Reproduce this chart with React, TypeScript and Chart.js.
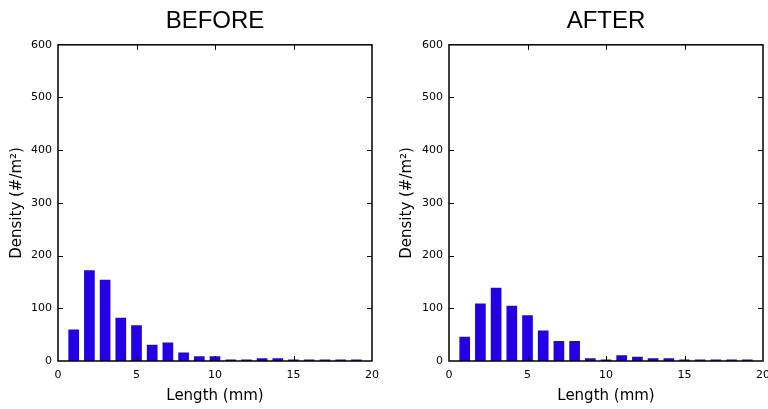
import React, { useEffect, useRef } from "react";
import { Chart, registerables } from "chart.js";

Chart.register(...registerables);

const lengths = [1, 2, 3, 4, 5, 6, 7, 8, 9, 10, 11, 12, 13, 14, 15, 16, 17, 18, 19];
const beforeValues = [60, 172, 154, 82, 68, 31, 35, 16, 9, 9, 0, 0, 5, 5, 0, 0, 0, 0, 0];
const afterValues = [46, 109, 139, 105, 87, 58, 38, 38, 5, 0, 11, 8, 5, 5, 0, 0, 0, 0, 0];
const xTicks = [0, 5, 10, 15, 20];
const yTicks = [0, 100, 200, 300, 400, 500, 600];
const titles = ["BEFORE", "AFTER"];

const FONT = "'Liberation Sans', Arial, sans-serif";
const AXFONT = "'DejaVu Sans', sans-serif";

const boxPlugin = {
  id: "boxTicks",
  afterDatasetsDraw(chart: any) {
    const { ctx, chartArea: a, scales } = chart;
    const x = scales.x, y = scales.y;
    ctx.save();
    ctx.strokeStyle = "#000";
    ctx.lineWidth = 1;
    const tl = 5;
    ctx.beginPath();
    for (const v of xTicks) {
      if (v === xTicks[0] || v === xTicks[xTicks.length - 1]) continue;
      const px = Math.round(x.getPixelForValue(v)) + 0.5;
      ctx.moveTo(px, a.bottom);
      ctx.lineTo(px, a.bottom - tl);
      ctx.moveTo(px, a.top);
      ctx.lineTo(px, a.top + tl);
    }
    for (const v of yTicks) {
      if (v === yTicks[0] || v === yTicks[yTicks.length - 1]) continue;
      const py = Math.round(y.getPixelForValue(v)) + 0.5;
      ctx.moveTo(a.left, py);
      ctx.lineTo(a.left + tl, py);
      ctx.moveTo(a.right, py);
      ctx.lineTo(a.right - tl, py);
    }
    ctx.stroke();
    ctx.lineWidth = 1.5;
    ctx.strokeRect(a.left, a.top, a.right - a.left, a.bottom - a.top);
    ctx.restore();
  },
};

function Panel({ title, values, left, width, padRight, yWidth }: any) {
  const ref = useRef<HTMLCanvasElement>(null);
  useEffect(() => {
    const points = lengths.map((l, i) => ({ x: l, y: values[i] }));
    const chart = new Chart(ref.current as HTMLCanvasElement, {
      type: "bar",
      data: {
        datasets: [
          {
            data: points,
            backgroundColor: "#2200e6",
            borderColor: "#2200e6",
            borderWidth: 0,
            barPercentage: 0.68,
            categoryPercentage: 1,
            minBarLength: 1.5,
          },
        ],
      },
      options: {
        animation: false,
        responsive: false,
        maintainAspectRatio: false,
        layout: { padding: { top: 3, right: padRight, bottom: 0, left: 0 } },
        plugins: {
          legend: { display: false },
          tooltip: { enabled: false },
          title: {
            display: true,
            text: title,
            fullSize: false,
            color: "#000",
            font: { family: FONT, size: 24, weight: "normal" },
            padding: { top: 4, bottom: 9 },
          },
        },
        scales: {
          x: {
            type: "linear",
            min: 0,
            max: 20,
            offset: false,
            grid: { display: false, drawTicks: false },
            border: { display: false },
            afterBuildTicks: (s: any) => {
              s.ticks = xTicks.map((v) => ({ value: v }));
            },
            afterFit: (s: any) => {
              s.height = 48;
              s.paddingLeft = 0;
              s.paddingRight = 0;
            },
            ticks: {
              color: "#000",
              font: { family: AXFONT, size: 11 },
              padding: 8,
              maxRotation: 0,
            },
            title: {
              display: true,
              text: "Length (mm)",
              color: "#000",
              font: { family: AXFONT, size: 15 },
              padding: { top: 0, bottom: 4 },
            },
          },
          y: {
            min: 0,
            max: 600,
            grid: { display: false, drawTicks: false },
            border: { display: false },
            afterBuildTicks: (s: any) => {
              s.ticks = yTicks.map((v) => ({ value: v }));
            },
            afterFit: (s: any) => {
              s.width = yWidth;
              s.paddingTop = 0;
              s.paddingBottom = 0;
            },
            ticks: {
              color: "#000",
              font: { family: AXFONT, size: 11 },
              padding: 6,
            },
            title: {
              display: true,
              text: "Density (#/m²)",
              color: "#000",
              font: { family: AXFONT, size: 15 },
              padding: { top: 8, bottom: 0 },
            },
          },
        },
      },
      plugins: [boxPlugin],
    } as any);
    return () => chart.destroy();
  }, []);
  return (
    <canvas
      ref={ref}
      width={width}
      height={409}
      style={{ position: "absolute", left, top: 0, width, height: 409 }}
    />
  );
}

export default function App() {
  return (
    <div style={{ position: "absolute", left: 0, top: 0, width: 768, height: 409, background: "#fff" }}>
      <Panel title={titles[0]} values={beforeValues} left={0} width={390} padRight={18} yWidth={58} />
      <Panel title={titles[1]} values={afterValues} left={390} width={378} padRight={5} yWidth={59} />
    </div>
  );
}
